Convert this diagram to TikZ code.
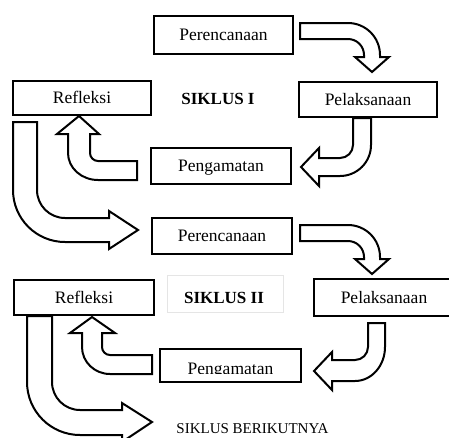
\documentclass[tikz,border=0pt]{standalone}
\usepackage{fontspec}
\setmainfont{Liberation Serif}
\begin{document}
\begin{tikzpicture}[x=1pt,y=-1pt,
  box/.style={draw,line width=2.4pt,fill=white,inner sep=0pt,
    text height=11.6pt,text depth=0pt,font=\fontsize{17.5}{20}\selectfont},
  barrow/.style={draw,line width=2pt,fill=white,line join=miter},
  lbl/.style={font=\bfseries\fontsize{17}{20}\selectfont,inner sep=0pt,anchor=base},
  boxtext/.style={font=\fontsize{17.5}{20}\selectfont,inner sep=0pt,anchor=base}]
\useasboundingbox (0,0) rectangle (449,437);
\clip (0,0) rectangle (449,437);

% ---- block arrows ----
% Perencanaan I -> Pelaksanaan I
\draw[barrow] (300,23) -- (348,23) arc[start angle=-90,end angle=0,radius=32]
  -- (380,57) -- (389,57) -- (372,72) -- (355,57) -- (364,57) -- (364,55)
  arc[start angle=0,end angle=-90,radius=16] -- (300,39) -- cycle;
% Pelaksanaan I -> Pengamatan I
\draw[barrow] (353,118) -- (353,145) arc[start angle=0,end angle=90,radius=13]
  -- (319,158) -- (319,148) -- (301,167) -- (319,186) -- (319,176) -- (340,176)
  arc[start angle=90,end angle=0,radius=31] -- (371,118) -- cycle;
% Pengamatan I -> Refleksi I
\draw[barrow] (137,161) -- (98,161) arc[start angle=90,end angle=180,radius=8]
  -- (90,134) -- (99,134) -- (79,116) -- (57,134) -- (68,134) -- (68,153)
  arc[start angle=180,end angle=90,x radius=30,y radius=27] -- (137,180) -- cycle;
% Refleksi I -> Perencanaan II
\draw[barrow] (13,122) -- (13,190) arc[start angle=180,end angle=90,radius=52]
  -- (109,242) -- (109,249) -- (138,230) -- (109,211) -- (109,218) -- (65,218)
  arc[start angle=90,end angle=180,radius=28] -- (37,122) -- cycle;
% Perencanaan II -> Pelaksanaan II
\draw[barrow] (300,225) -- (348,225) arc[start angle=-90,end angle=0,radius=32]
  -- (380,259) -- (389,259) -- (372,274) -- (355,259) -- (364,259) -- (364,257)
  arc[start angle=0,end angle=-90,radius=16] -- (300,241) -- cycle;
% Pelaksanaan II -> Pengamatan II
\draw[barrow] (368,323) -- (368,347) arc[start angle=0,end angle=90,radius=13]
  -- (332,360) -- (332,352) -- (314,371) -- (332,390) -- (332,381) -- (355,381)
  arc[start angle=90,end angle=0,x radius=30,y radius=34] -- (385,323) -- cycle;
% Pengamatan II -> Refleksi II
\draw[barrow] (152,355) -- (110,355) arc[start angle=90,end angle=180,radius=8]
  -- (102,333) -- (115,333) -- (92,317) -- (70,333) -- (82,333) -- (82,347)
  arc[start angle=180,end angle=90,x radius=28,y radius=27] -- (152,374) -- cycle;
% Refleksi II -> Siklus berikutnya
\draw[barrow] (27,316) -- (27,382) arc[start angle=180,end angle=90,radius=53]
  -- (122,435) -- (122,442) -- (152,422) -- (122,403) -- (122,410) -- (80,410)
  arc[start angle=90,end angle=180,radius=28] -- (52,316) -- cycle;

% ---- boxes ----
\node[box,minimum width=138.6pt,minimum height=37.6pt] (p1) at (223.5,35) {Perencanaan};
\node[box,minimum width=137.6pt,minimum height=33.6pt] (r1) at (82,98) {Refleksi};
\node[box,minimum width=137.6pt,minimum height=34.6pt] (l1) at (368,99.5) {Pelaksanaan};
\node[box,minimum width=139.6pt,minimum height=35.6pt] (g1) at (221,166) {Pengamatan};
\node[box,minimum width=139.6pt,minimum height=35.6pt] (p2) at (222,236) {Perencanaan};
\node[box,minimum width=139.6pt,minimum height=34.6pt] (r2) at (84,297.5) {Refleksi};
\node[box,minimum width=139.6pt,minimum height=36.6pt] (l2) at (384,297.5) {Pelaksanaan};
\node[box,minimum width=140.6pt,minimum height=32.6pt] (g2) at (230.5,365.5) {};
\begin{scope}
  \clip (160,349) rectangle (301,373);
  \node[boxtext] (g2t) at (230.5,374.5) {Pengamatan};
\end{scope}

% ---- labels ----
\draw[black!10,line width=0.6pt] (167,275) rectangle (283,312);
\node[lbl] (s1) at (218,104) {SIKLUS I};
\node[lbl] (s2) at (224,303) {SIKLUS II};
\node[font=\fontsize{15}{18}\selectfont,inner sep=0pt,anchor=base] (s3) at (252.5,433) {SIKLUS BERIKUTNYA};
\end{tikzpicture}
\end{document}
